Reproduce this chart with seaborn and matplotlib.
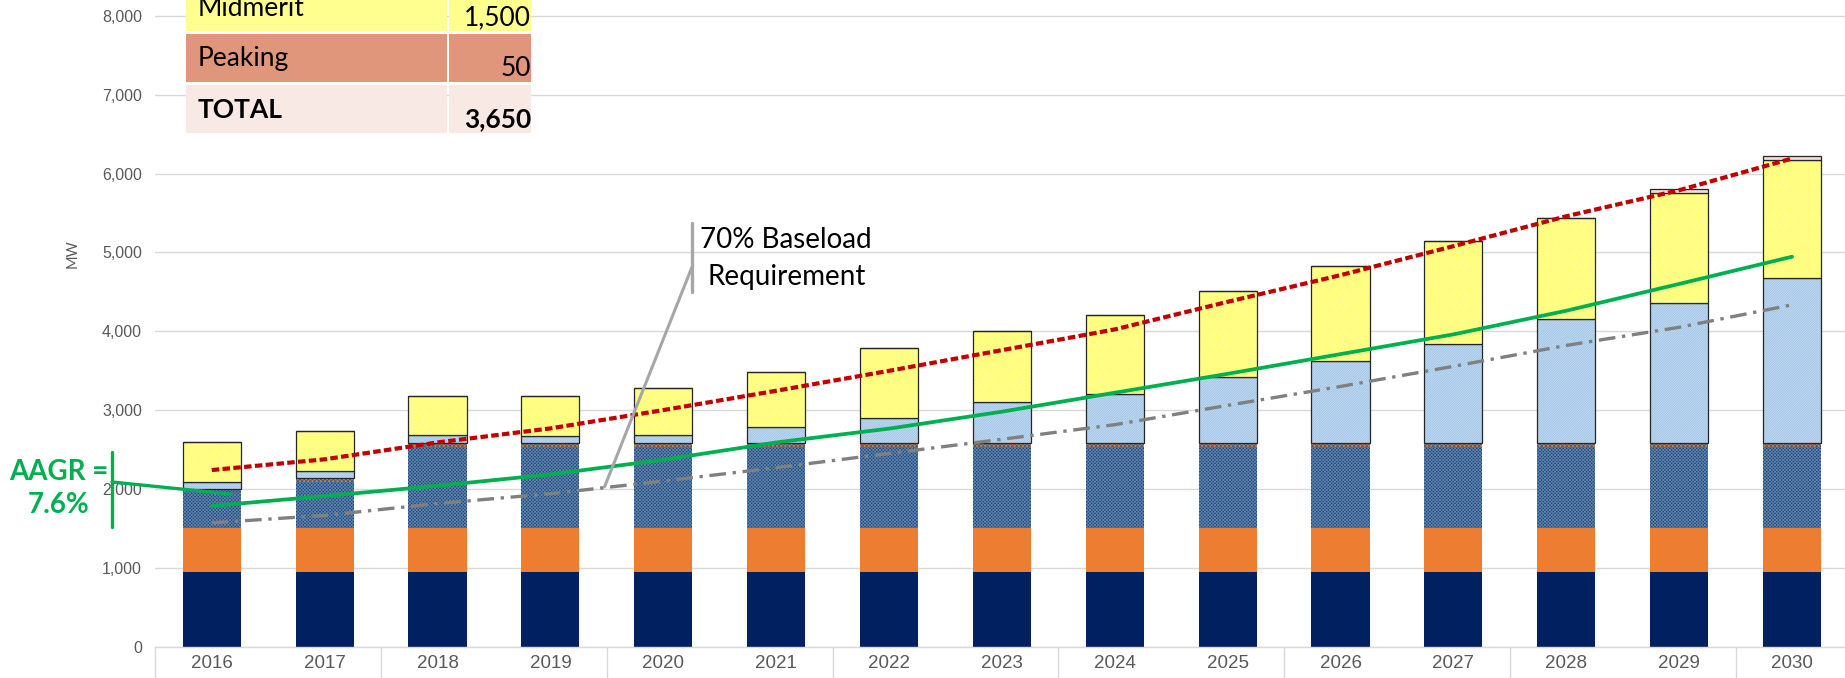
#!/usr/bin/env python
# coding: utf-8

"""Capacity stack vs demand outlook, 2016-2030 (MW)."""

import numpy as np
import matplotlib
matplotlib.use("Agg")
import matplotlib.pyplot as plt
from matplotlib.lines import Line2D
from matplotlib.patches import Rectangle
from matplotlib.ticker import FuncFormatter
import seaborn as sns

# ---- data (MW) ----
years = ["2016", "2017", "2018", "2019", "2020", "2021", "2022", "2023",
         "2024", "2025", "2026", "2027", "2028", "2029", "2030"]
base_navy = [950, 950, 950, 950, 950, 950, 950, 950, 950, 950, 950, 950, 950, 950, 950]
base_orange = [550, 550, 550, 550, 550, 550, 550, 550, 550, 550, 550, 550, 550, 550, 550]
base_textured = [500, 585, 1030, 1030, 1030, 1030, 1030, 1030, 1030, 1030, 1030, 1030, 1030, 1030, 1030]
base_strip = [0, 50, 50, 50, 50, 50, 50, 50, 50, 50, 50, 50, 50, 50, 50]
light_blue = [90, 95, 100, 95, 100, 210, 315, 520, 630, 840, 1045, 1255, 1570, 1780, 2095]
midmerit = [500, 510, 500, 505, 595, 690, 895, 900, 990, 1090, 1200, 1305, 1290, 1395, 1495]
peaking = [0, 0, 0, 0, 0, 0, 0, 0, 0, 0, 0, 0, 0, 50, 55]

peak_demand = [2240, 2376, 2590, 2768, 3000, 3245, 3498, 3760, 4023, 4373, 4711, 5079, 5458, 5788, 6190]
avg_demand = [1785, 1910, 2040, 2185, 2370, 2590, 2765, 2980, 3220, 3460, 3710, 3960, 4260, 4600, 4945]
baseload_req = [1570, 1665, 1815, 1940, 2100, 2270, 2450, 2630, 2815, 3060, 3300, 3555, 3820, 4050, 4335]

table_labels = ["Midmerit", "Peaking", "TOTAL"]
table_values = ["1,500", "50", "3,650"]

# ---- style ----
W, H = 1845, 678
BAR_W = 0.515
OUTLINE = "#262626"
GREEN = "#00B050"
GRID = "#D9D9D9"
TICK_C = "#595959"

sns.set_theme(style="white")
plt.rcParams["font.family"] = ["Liberation Sans Narrow", "Liberation Sans", "DejaVu Sans"]
plt.rcParams["hatch.linewidth"] = 0.6


def fx(px):
    return px / W


def fy(py):
    return 1 - py / H


fig = plt.figure(figsize=(W / 100, H / 100), dpi=100)
ax = fig.add_axes([fx(155.3), 31.3 / H, 1693.2 / W, 646.7 / H])

layers = [
    # values, face, hatch, hatch colour, outline
    (base_navy, "#002060", None, "#002060", False),
    (base_orange, "#ED7D31", None, "#ED7D31", False),
    (base_textured, "#1D4A78", "xxxxxxxxxx", "#5E81AD", False),
    (base_strip, "#E4782F", "xxxxxxxx", "#3A5F86", False),
    (light_blue, "#9DC3E6", "//////////////", "#C6DCF1", True),
    (midmerit, "#FFFF5C", "xxxxxxxxxx", "#FFFF9A", True),
    (peaking, "#F4DCD6", None, "#F4DCD6", True),
]

bottom = np.zeros(len(years))
for values, face, hatch, hcol, outline in layers:
    sns.barplot(x=years, y=values, bottom=bottom, color=face, width=BAR_W,
                errorbar=None, saturation=1, hatch=hatch, edgecolor=hcol,
                linewidth=0, ax=ax)
    if outline:
        sns.barplot(x=years, y=values, bottom=bottom, color=OUTLINE, fill=False,
                    width=BAR_W, errorbar=None, saturation=1, linewidth=0.9, ax=ax)
    bottom = bottom + np.array(values)

xpos = np.arange(len(years))
sns.lineplot(x=xpos, y=baseload_req, ax=ax, color="#808080", lw=2.4,
             linestyle=(0, (5.0, 2.0, 1, 2.0)))
sns.lineplot(x=xpos, y=avg_demand, ax=ax, color=GREEN, lw=2.7)
sns.lineplot(x=xpos, y=peak_demand, ax=ax, color="#C00000", lw=3.0,
             linestyle=(0, (1.8, 0.8)))

# ---- axes ----
ax.set_xlim(-0.5, len(years) - 0.5)
ax.set_ylim(0, 8200)
ax.set_yticks(np.arange(0, 8001, 1000))
ax.yaxis.set_major_formatter(FuncFormatter(lambda v, p: f"{int(v):,}"))
ax.set_axisbelow(True)
ax.yaxis.grid(True, color=GRID, lw=1)
ax.xaxis.grid(False)
ax.set_xlabel("")
ax.set_ylabel("")
for side in ["left", "top", "right"]:
    ax.spines[side].set_visible(False)
ax.spines["bottom"].set_color(GRID)
ax.spines["bottom"].set_linewidth(1)

ax.tick_params(axis="y", length=0, pad=9.5, labelsize=11.5, labelcolor=TICK_C)
ax.tick_params(axis="x", which="major", length=0, pad=6, labelsize=13.5, labelcolor=TICK_C)
ax.set_xticks(np.arange(-0.5, len(years), 2), minor=True)
ax.tick_params(axis="x", which="minor", bottom=True, direction="out",
               length=24, width=1, color=GRID)

fig.text(fx(72.5), fy(253.5), "MW", rotation=90, ha="center", va="center",
         fontsize=10.5, color=TICK_C, family="Lato")

# ---- table legend in the top-left corner (top row is cut by the frame, as in the source) ----
table_colors = ["#FFFF8F", "#E0967A", "#F9E9E5"]
row_top = [-20, 34, 85]
row_bot = [31, 82, 133]
label_base = [16, 66, 118]
value_base = [25, 76, 127]
for i, (lab, val) in enumerate(zip(table_labels, table_values)):
    weight = "bold" if lab == "TOTAL" else "normal"
    for x0, x1 in [(186, 447), (449, 531)]:
        fig.add_artist(Rectangle((fx(x0), fy(row_bot[i])), fx(x1) - fx(x0),
                                 (row_bot[i] - row_top[i]) / H,
                                 transform=fig.transFigure,
                                 facecolor=table_colors[i], lw=0, zorder=2))
    fig.text(fx(198), fy(label_base[i]), lab, ha="left", va="baseline",
             fontsize=19, fontweight=weight, family="Lato", color="black", zorder=3)
    fig.text(fx(531), fy(value_base[i]), val, ha="right", va="baseline",
             fontsize=19, fontweight=weight, family="Lato", color="black", zorder=3)

# ---- AAGR call-out ----
fig.text(fx(59), fy(472), "AAGR =", ha="center", va="center", color=GREEN,
         fontsize=20, fontweight="bold", family="Lato")
fig.text(fx(59), fy(505), "7.6%", ha="center", va="center", color=GREEN,
         fontsize=20, fontweight="bold", family="Lato")
fig.add_artist(Line2D([fx(112), fx(112)], [fy(452), fy(527)],
                      transform=fig.transFigure, color=GREEN, lw=2.4))
ax.annotate("", xy=(0.17, 1935), xycoords="data",
            xytext=(fx(112), fy(482)), textcoords="figure fraction",
            arrowprops=dict(arrowstyle="-", color=GREEN, lw=2.4,
                            shrinkA=0, shrinkB=0), zorder=6)

# ---- baseload call-out ----
fig.add_artist(Line2D([fx(692), fx(692)], [fy(223), fy(292)],
                      transform=fig.transFigure, color="#A6A6A6", lw=2.4))
ax.annotate("", xy=(3.48, 2028), xycoords="data",
            xytext=(fx(692), fy(267)), textcoords="figure fraction",
            arrowprops=dict(arrowstyle="-", color="#A6A6A6", lw=2.2,
                            shrinkA=0, shrinkB=0), zorder=6)
fig.text(fx(786), fy(240), "70% Baseload", ha="center", va="center",
         fontsize=20, family="Lato", color="black")
fig.text(fx(787), fy(277), "Requirement", ha="center", va="center",
         fontsize=20, family="Lato", color="black")

fig.savefig("out.png", dpi=100)
